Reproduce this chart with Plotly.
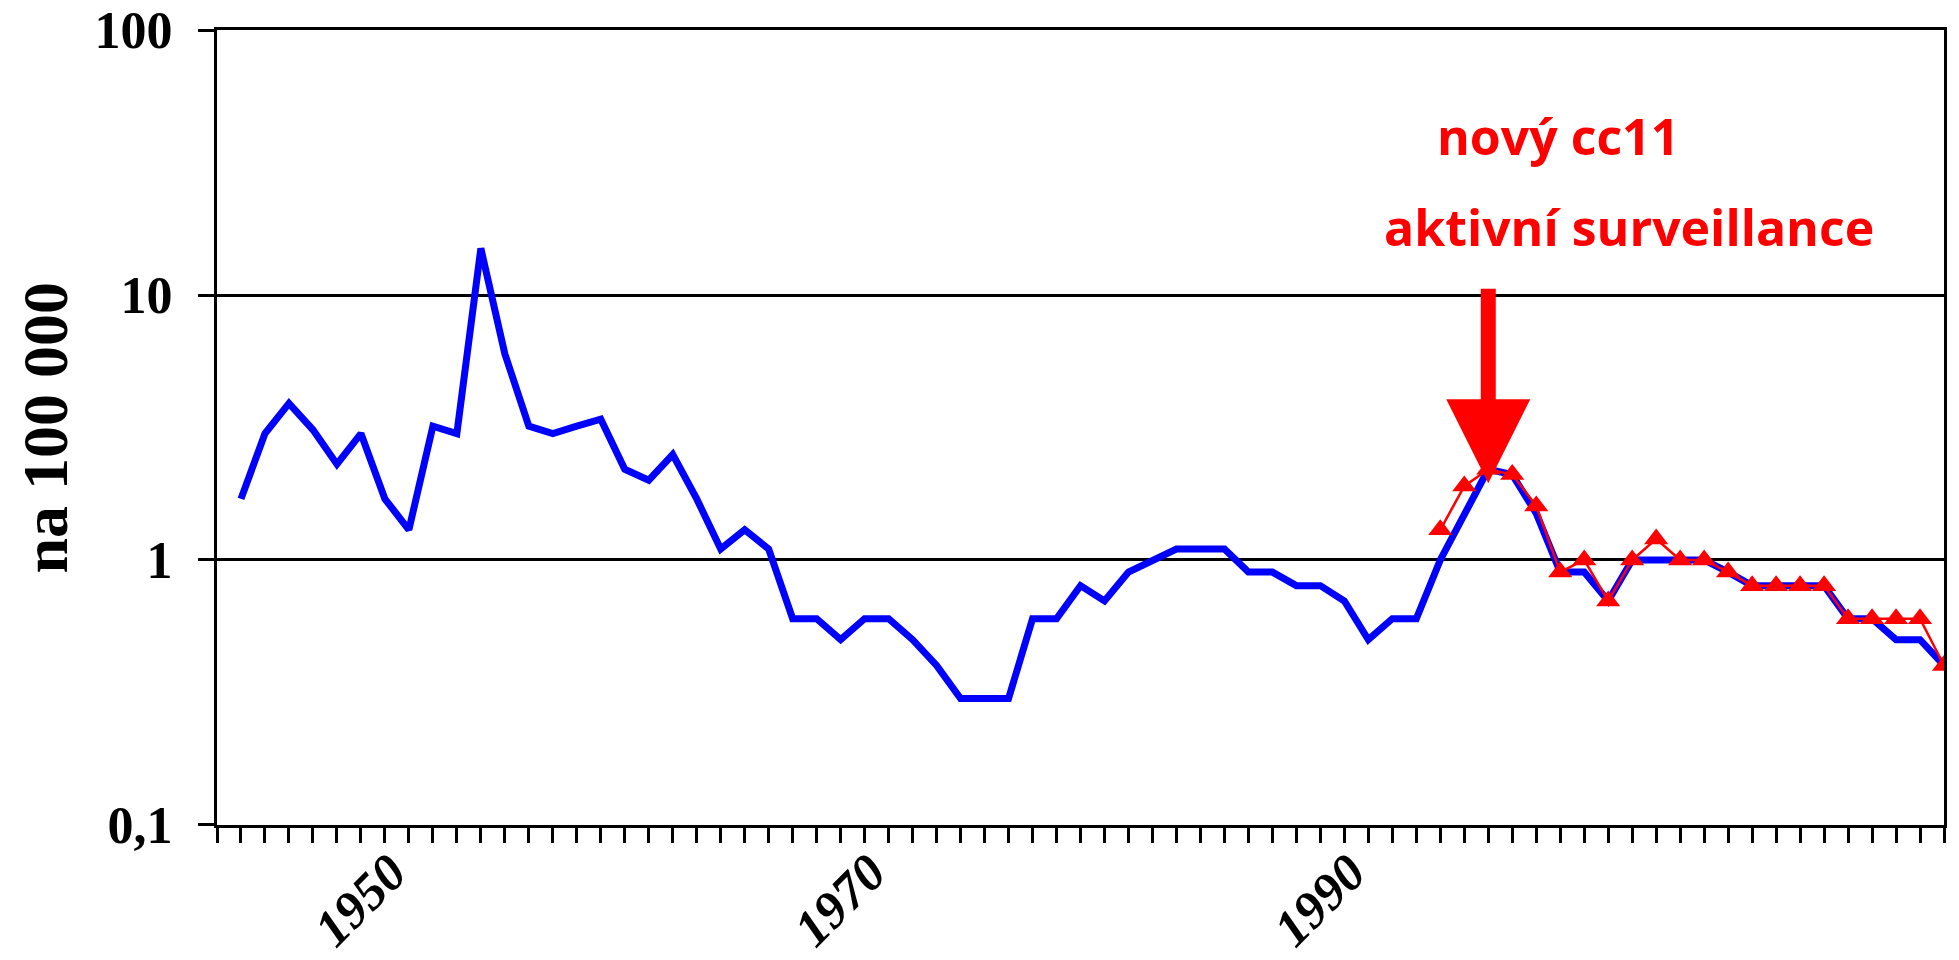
import numpy as np
import plotly.graph_objects as go

years = list(range(1943, 2015))
incidence = [1.7, 3.0, 3.9, 3.1, 2.3, 3.0, 1.7, 1.3, 3.2, 3.0,
             15.0, 6.0, 3.2, 3.0, 3.2, 3.4, 2.2, 2.0, 2.5, 1.7,
             1.1, 1.3, 1.1, 0.6, 0.6, 0.5, 0.6, 0.6, 0.5, 0.4,
             0.3, 0.3, 0.3, 0.6, 0.6, 0.8, 0.7, 0.9, 1.0, 1.1,
             1.1, 1.1, 0.9, 0.9, 0.8, 0.8, 0.7, 0.5, 0.6, 0.6,
             1.0, 1.5, 2.2, 2.1, 1.5, 0.9, 0.9, 0.7, 1.0, 1.0,
             1.0, 1.0, 0.9, 0.8, 0.8, 0.8, 0.8, 0.6, 0.6, 0.5,
             0.5, 0.4]

years_active = list(range(1993, 2015))
incidence_active = [1.3, 1.9, 2.2, 2.1, 1.6, 0.9, 1.0, 0.7, 1.0, 1.2,
                    1.0, 1.0, 0.9, 0.8, 0.8, 0.8, 0.8, 0.6, 0.6, 0.6,
                    0.6, 0.4]

axis_years = list(range(1942, 2015))
labelled_years = [1950, 1970, 1990]
x_ticktext = [str(y) if y in labelled_years else "" for y in axis_years]

y_tickvals = [0.1, 1, 10, 100]
y_ticktext = ["0,1", "1", "10", "100"]

arrow_year = 1995
arrow_value = 1.95

fig = go.Figure()
fig.add_trace(go.Scatter(x=years, y=incidence, mode="lines",
                         line=dict(color="#0000FF", width=7),
                         showlegend=False))
fig.add_trace(go.Scatter(x=years_active, y=incidence_active, mode="lines+markers",
                         line=dict(color="#FF0000", width=2.5),
                         marker=dict(symbol="triangle-up", size=21, color="#FF0000"),
                         showlegend=False))

serif = "Liberation Serif, Times New Roman, serif"
comic = "Comic Sans MS, Open Sans, sans-serif"

fig.update_layout(
    width=1959, height=960,
    margin=dict(l=217, r=15, t=30, b=135, autoexpand=False),
    paper_bgcolor="white", plot_bgcolor="white",
    xaxis=dict(
        range=[1942, 2014], tickmode="array", tickvals=axis_years, ticktext=x_ticktext,
        tickangle=-45, ticks="outside", ticklen=15, tickwidth=2.5, tickcolor="black",
        showline=True, linecolor="black", linewidth=3, mirror=True,
        showgrid=False, zeroline=False, automargin=False,
        tickfont=dict(family=serif, size=52, color="black", weight="bold", style="italic"),
        ticklabelstandoff=-22, ticklabelshift=-18, ticklabeloverflow="allow",
    ),
    yaxis=dict(
        type="log", range=[-1.0004, 2.0004], tickmode="array", tickvals=y_tickvals, ticktext=y_ticktext,
        ticks="outside", ticklen=16, tickwidth=2.5, tickcolor="black",
        showline=True, linecolor="black", linewidth=3, mirror=True,
        showgrid=True, gridcolor="black", gridwidth=2.5, automargin=False,
        tickfont=dict(family=serif, size=52, color="black", weight="bold"),
        ticklabelstandoff=15, ticklabeloverflow="allow",
    ),
    annotations=[
        dict(text="na 100 000", xref="paper", yref="paper", x=0, y=0.5,
             xanchor="center", yanchor="middle",
             xshift=-172, textangle=-90, showarrow=False,
             font=dict(family=serif, size=64, color="black", weight="bold")),
        dict(text="nový cc11", xref="x", yref="y", x=1997.9, y=1.6,
             showarrow=False, font=dict(family=comic, size=50, color="#FF0000", weight="bold")),
        dict(text="aktivní surveillance", xref="x", yref="y", x=2000.85, y=1.255,
             showarrow=False, font=dict(family=comic, size=50, color="#FF0000", weight="bold")),
        dict(text="", xref="x", yref="y", x=arrow_year, y=float(np.log10(arrow_value)),
             ax=0, ay=-196, showarrow=True, arrowhead=2, arrowsize=1.12, arrowwidth=15,
             arrowcolor="#FF0000"),
    ],
)

fig.write_html("out.html",
               config={"displayModeBar": False},
               post_script="document.body.style.margin='0px'; document.body.style.overflow='hidden';")
